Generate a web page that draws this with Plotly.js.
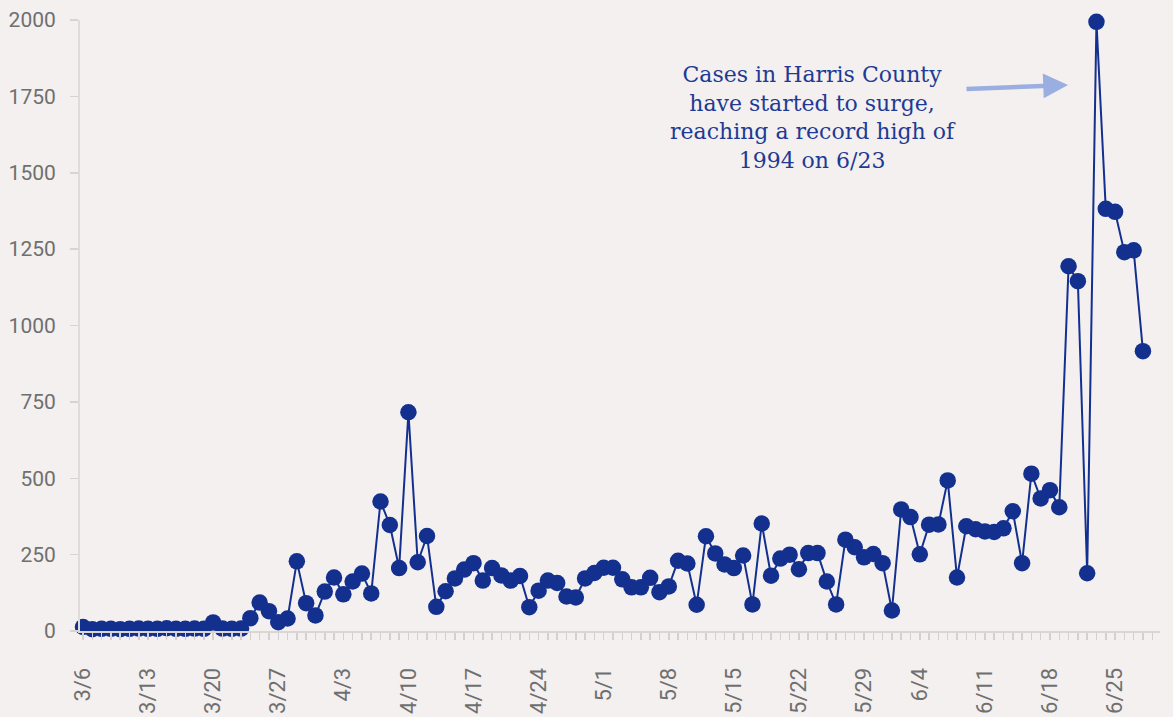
<!DOCTYPE html>
<html>
<head>
<meta charset="utf-8">
<script src="https://cdn.plot.ly/plotly-3.0.1.min.js"></script>
<style>
html,body{margin:0;padding:0;background:#f3f0ef;}
#chart{width:1173px;height:717px;}
</style>
</head>
<body>
<div id="chart"></div>
<script>
const dates = [
"2020-03-06","2020-03-07","2020-03-08","2020-03-09","2020-03-10","2020-03-11","2020-03-12","2020-03-13","2020-03-14","2020-03-15",
"2020-03-16","2020-03-17","2020-03-18","2020-03-19","2020-03-20","2020-03-21","2020-03-22","2020-03-23","2020-03-24","2020-03-25",
"2020-03-26","2020-03-27","2020-03-28","2020-03-29","2020-03-30","2020-03-31",
"2020-04-01","2020-04-02","2020-04-03","2020-04-04","2020-04-05","2020-04-06","2020-04-07","2020-04-08","2020-04-09","2020-04-10",
"2020-04-11","2020-04-12","2020-04-13","2020-04-14","2020-04-15","2020-04-16","2020-04-17","2020-04-18","2020-04-19","2020-04-20",
"2020-04-21","2020-04-22","2020-04-23","2020-04-24","2020-04-25","2020-04-26","2020-04-27","2020-04-28","2020-04-29","2020-04-30",
"2020-05-01","2020-05-02","2020-05-03","2020-05-04","2020-05-05","2020-05-06","2020-05-07","2020-05-08","2020-05-09","2020-05-10",
"2020-05-11","2020-05-12","2020-05-13","2020-05-14","2020-05-15","2020-05-16","2020-05-17","2020-05-18","2020-05-19","2020-05-20",
"2020-05-21","2020-05-22","2020-05-23","2020-05-24","2020-05-25","2020-05-26","2020-05-27","2020-05-28","2020-05-29","2020-05-30","2020-05-31",
"2020-06-01","2020-06-02","2020-06-03","2020-06-04","2020-06-05","2020-06-06","2020-06-07","2020-06-08","2020-06-09","2020-06-10",
"2020-06-11","2020-06-12","2020-06-13","2020-06-14","2020-06-15","2020-06-16","2020-06-17","2020-06-18","2020-06-19","2020-06-20",
"2020-06-21","2020-06-22","2020-06-23","2020-06-24","2020-06-25","2020-06-26","2020-06-27","2020-06-28"
];

const marchCases = [13,6,7,7,6,7,8,7,7,9,7,7,8,7,28,8,7,8,42,93,65,29,41,228,91,51];
const aprilCases = [129,175,120,162,188,123,424,347,206,716,225,311,79,130,172,201,222,165,206,182,165,180,78,132,165,157,113,110,172,190];
const mayCases = [207,207,169,143,143,174,127,146,230,221,86,310,254,218,206,247,87,352,181,237,250,202,255,255,162,87,299,274,241,252,222];
const juneCases = [67,398,373,251,348,349,493,175,343,333,326,324,336,392,222,515,434,461,405,1194,1145,189,1994,1382,1372,1240,1246,916];

const dailyCases = [].concat(marchCases, aprilCases, mayCases, juneCases);

const xTickVals = ["2020-03-06","2020-03-13","2020-03-20","2020-03-27","2020-04-03","2020-04-10","2020-04-17","2020-04-24",
  "2020-05-01","2020-05-08","2020-05-15","2020-05-22","2020-05-29","2020-06-04","2020-06-11","2020-06-18","2020-06-25"];
const xTickText = ["3/6","3/13","3/20","3/27","4/3","4/10","4/17","4/24","5/1","5/8","5/15","5/22","5/29","6/4","6/11","6/18","6/25"];
const yTickVals = [0,250,500,750,1000,1250,1500,1750,2000];
const yTickText = ["0","250","500","750","1000","1250","1500","1750","2000"];

const annotationText = "Cases in Harris County<br>have started to surge,<br>reaching a record high of<br>1994 on 6/23";

const navy = "#14308f";
const bg = "#f3f0ef";

const trace = {
  type: "scatter",
  mode: "lines+markers",
  x: dates,
  y: dailyCases,
  line: {color: navy, width: 2},
  marker: {color: navy, size: 16.5},
  cliponaxis: false,
  hoverinfo: "x+y"
};

const layout = {
  width: 1173,
  height: 717,
  paper_bgcolor: bg,
  plot_bgcolor: bg,
  margin: {l: 80, r: 13, t: 20, b: 86, pad: 0},
  showlegend: false,
  xaxis: {
    type: "date",
    range: ["2020-03-05 16:15", "2020-06-29 20:00"],
    tickmode: "array",
    tickvals: xTickVals,
    ticktext: xTickText,
    tickangle: -90,
    ticks: "outside",
    ticklen: 7,
    tickwidth: 1.5,
    tickcolor: "#d3d0cf",
    ticklabelstandoff: 19,
    minor: {dtick: 86400000, tick0: "2020-03-06", ticks: "outside", ticklen: 7, tickwidth: 1.5, tickcolor: "#d3d0cf", showgrid: false},
    showline: true,
    linecolor: "#d9d6d5",
    linewidth: 2,
    showgrid: false,
    zeroline: false,
    tickfont: {family: "Roboto, sans-serif", size: 22, color: "#6f6f6f"}
  },
  yaxis: {
    range: [0, 2000],
    tickmode: "array",
    tickvals: yTickVals,
    ticktext: yTickText,
    ticks: "outside",
    ticklen: 8,
    tickwidth: 1.5,
    tickcolor: "#d6d3d2",
    ticklabelstandoff: 10,
    showline: true,
    linecolor: "#dedbda",
    linewidth: 2,
    showgrid: false,
    zeroline: false,
    tickfont: {family: "Roboto, sans-serif", size: 21, color: "#6f6f6f"}
  },
  annotations: [
    {
      xref: "paper", yref: "paper",
      x: 0.679, y: 0.841,
      xanchor: "center", yanchor: "middle",
      text: annotationText,
      showarrow: false,
      align: "center",
      font: {family: "DejaVu Serif, serif", size: 22, color: "#1e3a94"}
    },
    {
      xref: "paper", yref: "paper",
      x: (1068 - 80) / 1080, y: (631 - 85) / 611,
      axref: "pixel", ayref: "pixel",
      ax: -103, ay: 4,
      text: "",
      showarrow: true,
      arrowhead: 2,
      arrowsize: 1.1,
      arrowwidth: 4.5,
      arrowcolor: "#9aaee0"
    }
  ]
};

Plotly.newPlot("chart", [trace], layout, {displayModeBar: false, staticPlot: true});
</script>
</body>
</html>
